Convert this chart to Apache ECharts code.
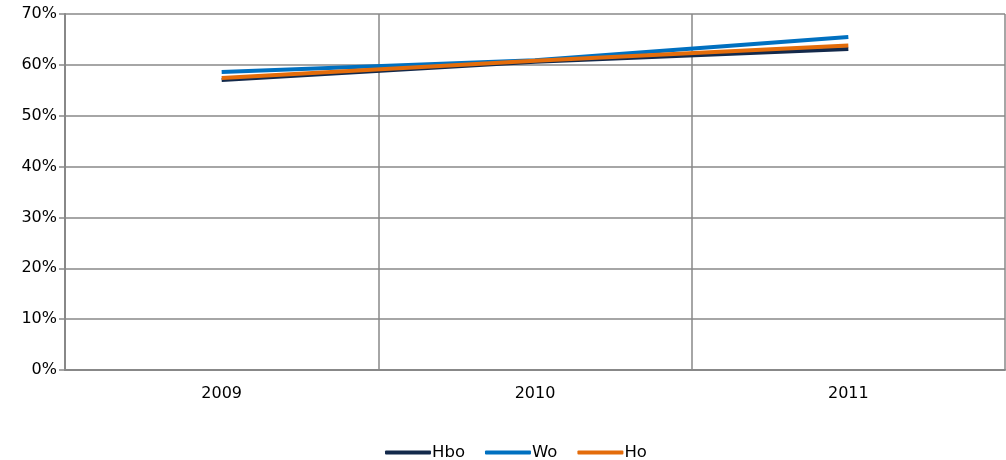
<!DOCTYPE html>
<html><head><meta charset="utf-8">
<script src="https://cdn.jsdelivr.net/npm/echarts@6/dist/echarts.min.js"></script>
<style>html,body{margin:0;padding:0;background:#fff}#c{width:1006px;height:460px}</style>
</head><body><div id="c"></div>
<script>
const categories = ['2009', '2010', '2011'];
const hbo = [57.0, 60.6, 63.1];
const wo = [58.6, 60.9, 65.5];
const ho = [57.4, 60.8, 63.8];
const yTicks = [0, 10, 20, 30, 40, 50, 60, 70];

const chart = echarts.init(document.getElementById('c'));
const font = '"DejaVu Sans", Verdana, sans-serif';
function mk(name, data, color) {
  return { name, type: 'line', data, symbol: 'none', showSymbol: false,
    lineStyle: { color, width: 4 }, itemStyle: { color } };
}
chart.setOption({
  animation: false,
  grid: { left: 65, right: 1, top: 14, bottom: 90 },
  legend: {
    top: 439, left: 380, icon: 'roundRect', itemWidth: 46, itemHeight: 4, itemGap: 20,
    textStyle: { fontFamily: font, fontSize: 16.5, color: '#000', padding: [0, 0, 0, -4] },
    data: ['Hbo', 'Wo', 'Ho']
  },
  xAxis: {
    type: 'category', data: categories, boundaryGap: true,
    axisLine: { lineStyle: { color: '#888', width: 2 } },
    axisTick: { show: false },
    axisLabel: { fontFamily: font, fontSize: 16, color: '#000', margin: 16 },
    splitLine: { show: true, interval: 0, lineStyle: { color: '#888', width: 1.5 } }
  },
  yAxis: {
    type: 'value', min: 0, max: 70, interval: 10,
    axisLine: { show: true, lineStyle: { color: '#888', width: 2 } },
    axisTick: { show: true, length: 6, lineStyle: { color: '#888', width: 1.5 } },
    axisLabel: { fontFamily: font, fontSize: 16, color: '#000', margin: 8,
      formatter: v => yTicks.includes(v) ? v + '%' : '' },
    splitLine: { show: true, lineStyle: { color: '#888', width: 1.5 } }
  },
  series: [mk('Hbo', hbo, '#13294b'), mk('Wo', wo, '#0070c0'), mk('Ho', ho, '#e46c0a')]
});
</script></body></html>
